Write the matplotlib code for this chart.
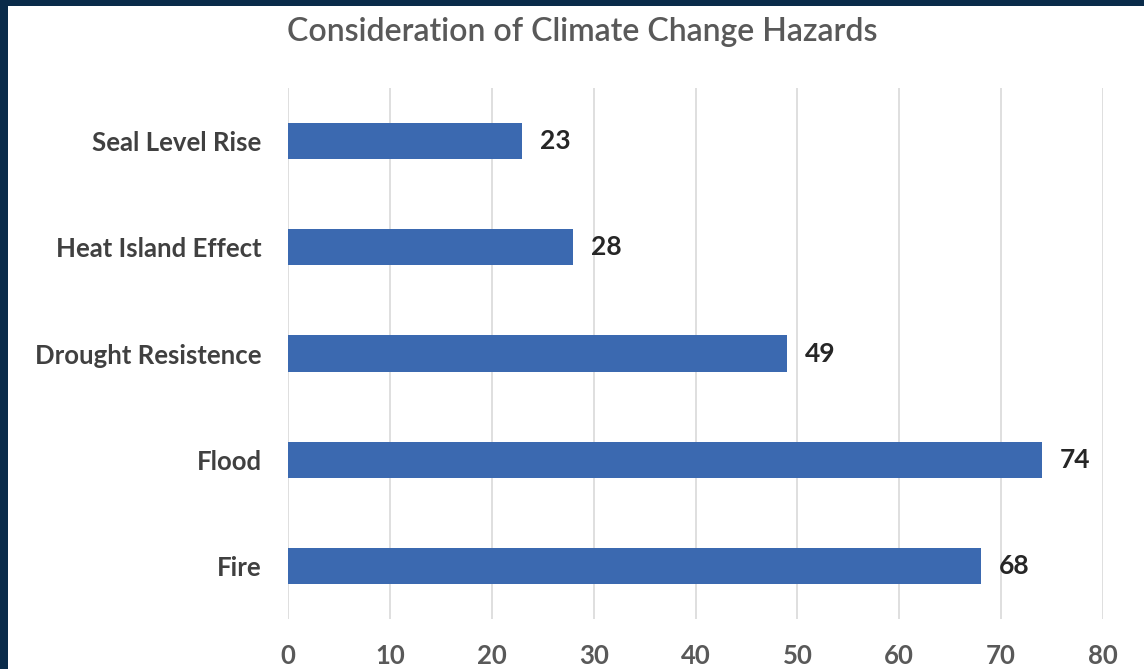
import matplotlib
matplotlib.use("Agg")
import matplotlib.pyplot as plt
from matplotlib.patches import Rectangle

categories = ["Fire", "Flood", "Drought Resistence", "Heat Island Effect", "Seal Level Rise"]
values = [68, 74, 49, 28, 23]
xticks = [0, 10, 20, 30, 40, 50, 60, 70, 80]
title = "Consideration of Climate Change Hazards"

W, H = 1144, 669
fig = plt.figure(figsize=(W / 100, H / 100), dpi=100)
fig.patch.set_facecolor("white")

ax = fig.add_axes([288 / W, 1 - 619 / H, (1103 - 288) / W, (619 - 88) / H])
ypos = list(range(len(categories)))
ax.barh(ypos, values, height=0.34, color="#3B69B0", zorder=3)
ax.set_xlim(0, 80)
ax.set_ylim(-0.5, len(categories) - 0.5)
ax.set_xticks(xticks)
ax.set_xticklabels([str(t) for t in xticks], fontfamily="Lato", fontsize=18.5,
                   fontweight="bold", color="#595959")
ax.set_yticks(ypos)
ax.set_yticklabels(categories, fontfamily="Lato", fontsize=18.5,
                   fontweight="bold", color="#404040")
ax.tick_params(axis="x", length=0, pad=18)
ax.tick_params(axis="y", length=0, pad=19)
ax.grid(axis="x", color="#d9d9d9", linewidth=1.2, zorder=0)
for s in ax.spines.values():
    s.set_visible(False)

for y, v in zip(ypos, values):
    ax.annotate(str(v), (v, y), xytext=(13, 0), textcoords="offset points",
                ha="left", va="center", fontfamily="Lato", fontsize=19,
                fontweight="bold", color="#262626")

fig.text(582 / W, 1 - 32 / H, title, ha="center", va="center",
         fontfamily="Lato", fontsize=23, fontweight="semibold", color="#595959")

fig.add_artist(Rectangle((0, 1 - 6 / H), 1, 6 / H, transform=fig.transFigure,
                         facecolor="#0A2B4A", edgecolor="none"))
fig.add_artist(Rectangle((0, 0), 8 / W, 1, transform=fig.transFigure,
                         facecolor="#0A2B4A", edgecolor="none"))

fig.savefig("out.png", dpi=100, facecolor="white")
